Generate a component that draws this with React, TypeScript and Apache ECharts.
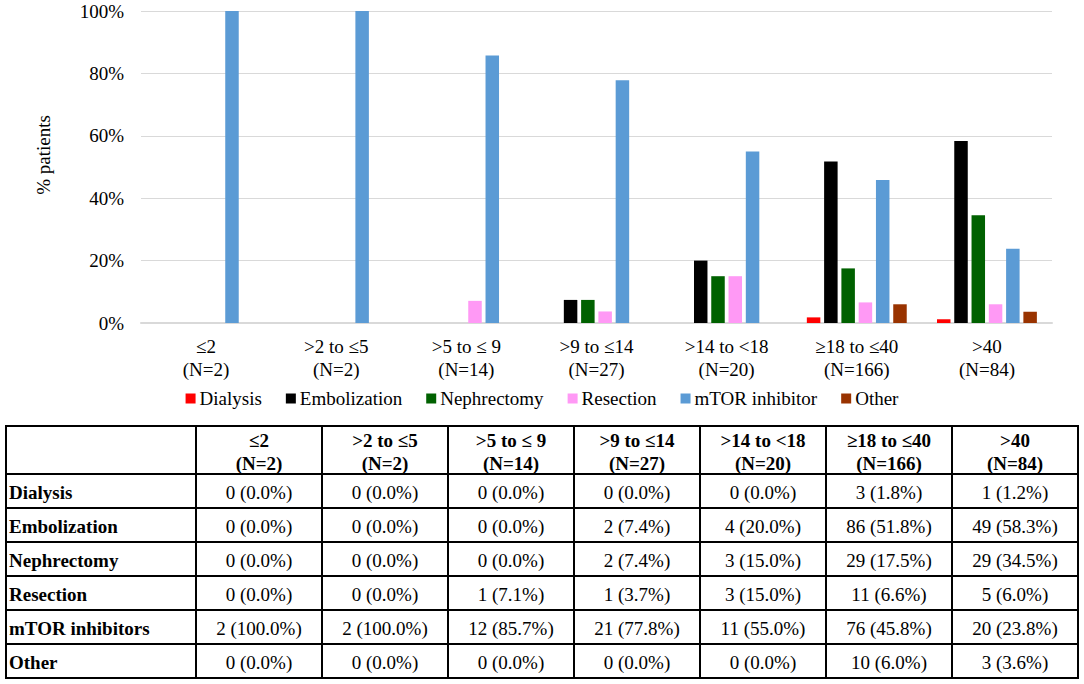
import React, { useEffect, useRef } from "react";
import * as echarts from "echarts";

const categories = ["≤2", ">2 to ≤5", ">5 to ≤ 9", ">9 to ≤14", ">14 to <18", "≥18 to ≤40", ">40"];
const groupN = [2, 2, 14, 27, 20, 166, 84];

const legendNames = ["Dialysis", "Embolization", "Nephrectomy", "Resection", "mTOR inhibitor", "Other"];
const tableRowNames = ["Dialysis", "Embolization", "Nephrectomy", "Resection", "mTOR inhibitors", "Other"];
const seriesColors = ["#FF0000", "#000000", "#006100", "#FF99F5", "#5B9BD5", "#993300"];

const dialysisCount = [0, 0, 0, 0, 0, 3, 1];
const embolizationCount = [0, 0, 0, 2, 4, 86, 49];
const nephrectomyCount = [0, 0, 0, 2, 3, 29, 29];
const resectionCount = [0, 0, 1, 1, 3, 11, 5];
const mtorCount = [2, 2, 12, 21, 11, 76, 20];
const otherCount = [0, 0, 0, 0, 0, 10, 3];

const dialysisPct = [0, 0, 0, 0, 0, 1.8, 1.2];
const embolizationPct = [0, 0, 0, 7.4, 20.0, 51.8, 58.3];
const nephrectomyPct = [0, 0, 0, 7.4, 15.0, 17.5, 34.5];
const resectionPct = [0, 0, 7.1, 3.7, 15.0, 6.6, 6.0];
const mtorPct = [100.0, 100.0, 85.7, 77.8, 55.0, 45.8, 23.8];
const otherPct = [0, 0, 0, 0, 0, 6.0, 3.6];

const yTicks = [0, 20, 40, 60, 80, 100];
const yAxisTitle = "% patients";

const FONT = "Liberation Serif, Times New Roman, serif";

export default function App() {
  const ref = useRef<HTMLDivElement>(null);

  useEffect(() => {
    document.body.style.margin = "0";
    if (!ref.current) return;
    const chart = echarts.init(ref.current, undefined, { renderer: "svg" });

    const counts = [dialysisCount, embolizationCount, nephrectomyCount, resectionCount, mtorCount, otherCount];
    const pcts = [dialysisPct, embolizationPct, nephrectomyPct, resectionPct, mtorPct, otherPct];

    // Table geometry
    const colX = [6, 196];
    for (let i = 0; i < categories.length; i++) colX.push(196 + 126 * (i + 1));
    const rowY = [426, 474];
    for (let i = 0; i < tableRowNames.length; i++) rowY.push(474 + 34 * (i + 1));
    const tLeft = colX[0];
    const tRight = colX[colX.length - 1];
    const tTop = rowY[0];
    const tBottom = rowY[rowY.length - 1];

    const txt = (text: string, x: number, y: number, bold: boolean, align: string) => ({
      type: "text",
      style: {
        text,
        x,
        y,
        fill: "#000",
        fontFamily: FONT,
        fontSize: 19,
        fontWeight: bold ? "bold" : "normal",
        textAlign: align,
        textVerticalAlign: "middle",
      },
    });

    const graphics: any[] = [];
    graphics.push({
      type: "text",
      x: 43,
      y: 155,
      rotation: Math.PI / 2,
      style: {
        text: yAxisTitle,
        fill: "#000",
        fontFamily: FONT,
        fontSize: 19,
        textAlign: "center",
        textVerticalAlign: "middle",
      },
    });
    graphics.push({
      type: "rect",
      shape: { x: tLeft, y: tTop, width: tRight - tLeft, height: tBottom - tTop },
      style: { fill: "none", stroke: "#000", lineWidth: 2 },
    });
    for (let i = 1; i < colX.length - 1; i++) {
      graphics.push({
        type: "line",
        shape: { x1: colX[i], y1: tTop, x2: colX[i], y2: tBottom },
        style: { stroke: "#000", lineWidth: 2 },
      });
    }
    for (let j = 1; j < rowY.length - 1; j++) {
      graphics.push({
        type: "line",
        shape: { x1: tLeft, y1: rowY[j], x2: tRight, y2: rowY[j] },
        style: { stroke: "#000", lineWidth: 2 },
      });
    }
    categories.forEach((c, i) => {
      const cx = (colX[i + 1] + colX[i + 2]) / 2;
      graphics.push(txt(c, cx, 440, true, "center"));
      graphics.push(txt(`(N=${groupN[i]})`, cx, 463, true, "center"));
    });
    tableRowNames.forEach((r, j) => {
      const cy = (rowY[j + 1] + rowY[j + 2]) / 2 + 1;
      graphics.push(txt(r, 9, cy, true, "left"));
      categories.forEach((_, i) => {
        const cx = (colX[i + 1] + colX[i + 2]) / 2;
        graphics.push(txt(`${counts[j][i]} (${pcts[j][i].toFixed(1)}%)`, cx, cy, false, "center"));
      });
    });

    const catLabels = categories.map((c, i) => `${c}\n(N=${groupN[i]})`);

    chart.setOption({
      animation: false,
      backgroundColor: "#fff",
      textStyle: { fontFamily: FONT },
      grid: { left: 141, right: 32, top: 11, bottom: 361, containLabel: false },
      legend: {
        data: legendNames,
        top: 384,
        left: "center",
        icon: "rect",
        itemWidth: 10,
        itemHeight: 10,
        itemGap: 24,
        textStyle: { fontFamily: FONT, fontSize: 19, color: "#000", padding: [0, 0, 0, -1] },
      },
      xAxis: {
        type: "category",
        data: catLabels,
        axisTick: { show: false },
        axisLine: { lineStyle: { color: "#D9D9D9", width: 2 } },
        axisLabel: { fontFamily: FONT, fontSize: 19, color: "#000", lineHeight: 23, margin: 12, interval: 0 },
      },
      yAxis: {
        type: "value",
        min: yTicks[0],
        max: yTicks[yTicks.length - 1],
        interval: yTicks[1] - yTicks[0],
        axisLine: { show: false },
        axisTick: { show: false },
        splitLine: { lineStyle: { color: "#D9D9D9", width: 1 } },
        axisLabel: { fontFamily: FONT, fontSize: 19, color: "#000", margin: 17, formatter: "{value}%" },
      },
      series: legendNames.map((name, k) => ({
        name,
        type: "bar",
        data: pcts[k],
        barWidth: 13.5,
        barGap: "28%",
        itemStyle: { color: seriesColors[k] },
      })),
      graphic: graphics,
    });

    return () => chart.dispose();
  }, []);

  return <div ref={ref} style={{ width: 1084, height: 684 }} />;
}
